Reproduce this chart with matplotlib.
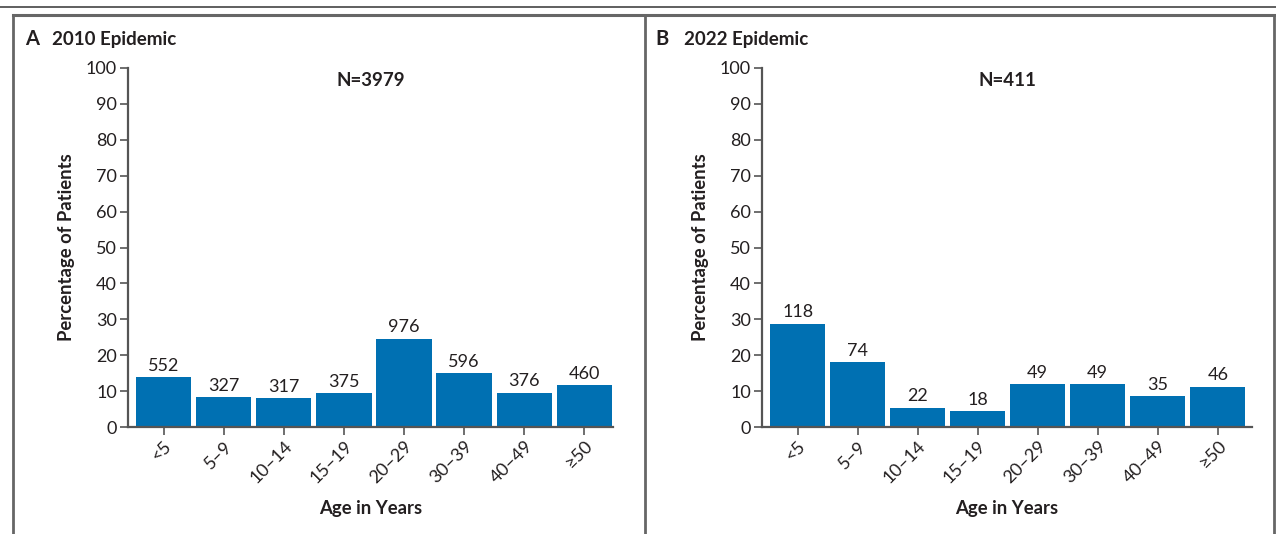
import numpy as np
import matplotlib
matplotlib.use("Agg")
import matplotlib.pyplot as plt
from matplotlib.lines import Line2D

plt.rcParams["font.family"] = ["Lato", "DejaVu Sans"]

age_groups = ["<5", "5\u20139", "10\u201314", "15\u201319", "20\u201329",
              "30\u201339", "40\u201349", "\u226550"]
counts_2010 = [552, 327, 317, 375, 976, 596, 376, 460]
counts_2022 = [118, 74, 22, 18, 49, 49, 35, 46]
n_2010 = 3979
n_2022 = 411

BAR = "#0070b2"
AX = "#555555"
TXT = "#231f20"

W, H = 1276, 534
fig = plt.figure(figsize=(W / 100, H / 100), dpi=100)


def fx(px):
    return px / W


def fy(py):
    return 1 - py / H


def panel(rect, counts, n, xmax):
    ax = fig.add_axes(rect)
    pct = np.array(counts) / n * 100
    x = np.arange(len(counts))
    ax.bar(x, pct, width=0.92, color=BAR, zorder=2)
    for xi, p, c in zip(x, pct, counts):
        ax.text(xi, p + 1.0, str(c), ha="center", va="bottom", fontsize=13, color=TXT)
    ax.set_xlim(-0.593, xmax)
    ax.set_ylim(0, 100)
    ax.set_yticks(range(0, 101, 10))
    ax.set_xticks(x)
    ax.set_xticklabels(age_groups, rotation=45, ha="right", va="top",
                       rotation_mode="anchor")
    for s in ("top", "right"):
        ax.spines[s].set_visible(False)
    for s in ("left", "bottom"):
        ax.spines[s].set_color(AX)
        ax.spines[s].set_linewidth(1.6)
    ax.tick_params(axis="both", colors=AX, width=1.2, length=6, labelsize=13,
                   labelcolor=TXT, pad=2)
    ax.set_ylabel("Percentage of Patients", fontsize=13.3, fontweight="bold",
                  color=TXT, labelpad=8)
    ax.set_xlabel("Age in Years", fontsize=13.3, fontweight="bold", color=TXT,
                  labelpad=10)
    ax.text(0.5, 0.99, f"N={n}", transform=ax.transAxes, ha="center", va="top",
            fontsize=13.5, fontweight="bold", color=TXT)
    return ax


panel([fx(128), fy(427), fx(613) - fx(128), fy(68) - fy(427)],
      counts_2010, n_2010, 7.477)
panel([fx(762), fy(427), fx(1252) - fx(762), fy(68) - fy(427)],
      counts_2022, n_2022, 7.57)

# frame lines around the two panels
fig.add_artist(Line2D([0, 1], [fy(7), fy(7)], color="#444444", lw=1.2))
fig.add_artist(Line2D([fx(13), fx(1274)], [fy(14.5), fy(14.5)], color="#666666", lw=2.2))
for px in (13, 645, 1273.5):
    fig.add_artist(Line2D([fx(px), fx(px)], [fy(14.5), 0], color="#666666", lw=2))

# panel headings
fig.text(fx(25), fy(39), "A", fontsize=14.5, fontweight="bold", color=TXT, va="center")
fig.text(fx(52), fy(39), "2010 Epidemic", fontsize=13.5, fontweight="bold", color=TXT, va="center")
fig.text(fx(655), fy(39), "B", fontsize=14.5, fontweight="bold", color=TXT, va="center")
fig.text(fx(684), fy(39), "2022 Epidemic", fontsize=13.5, fontweight="bold", color=TXT, va="center")

fig.savefig("out.png", dpi=100)
